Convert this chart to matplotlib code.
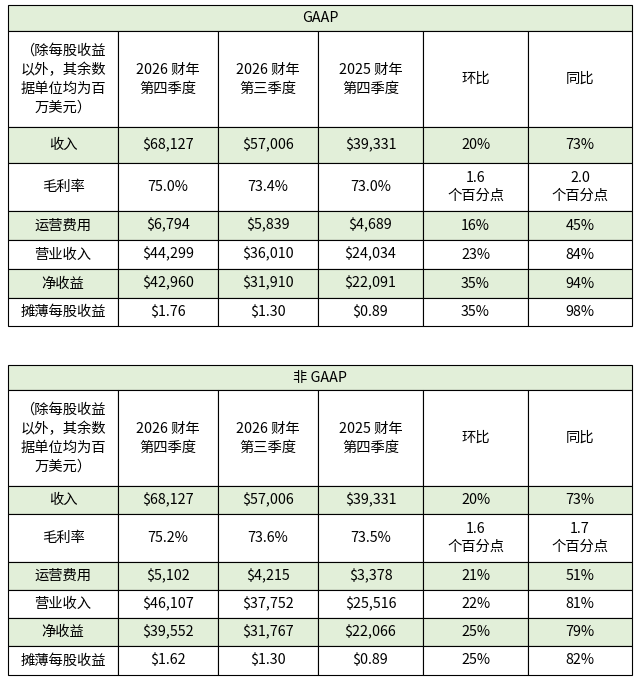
import matplotlib
matplotlib.use("Agg")
import matplotlib.pyplot as plt
from matplotlib.patches import Rectangle

plt.rcParams['font.family'] = ['Noto Sans CJK SC', 'DejaVu Sans']

col_headers = ["（除每股收益\n以外，其余数\n据单位均为百\n万美元）", "2026 财年\n第四季度", "2026 财年\n第三季度", "2025 财年\n第四季度", "环比", "同比"]
row_labels = ["收入", "毛利率", "运营费用", "营业收入", "净收益", "摊薄每股收益"]
gaap_values = [
    ["$68,127", "$57,006", "$39,331", "20%", "73%"],
    ["75.0%", "73.4%", "73.0%", "1.6\n个百分点", "2.0\n个百分点"],
    ["$6,794", "$5,839", "$4,689", "16%", "45%"],
    ["$44,299", "$36,010", "$24,034", "23%", "84%"],
    ["$42,960", "$31,910", "$22,091", "35%", "94%"],
    ["$1.76", "$1.30", "$0.89", "35%", "98%"],
]
nongaap_values = [
    ["$68,127", "$57,006", "$39,331", "20%", "73%"],
    ["75.2%", "73.6%", "73.5%", "1.6\n个百分点", "1.7\n个百分点"],
    ["$5,102", "$4,215", "$3,378", "21%", "51%"],
    ["$46,107", "$37,752", "$25,516", "22%", "81%"],
    ["$39,552", "$31,767", "$22,066", "25%", "79%"],
    ["$1.62", "$1.30", "$0.89", "25%", "82%"],
]
green_rows = [True, False, True, False, True, False]

W, H = 639, 685
fig = plt.figure(figsize=(W/100, H/100), dpi=100)
ax = fig.add_axes([0, 0, 1, 1])
ax.set_xlim(0, W); ax.set_ylim(H, 0); ax.axis('off')

xs = [8, 118, 218, 318, 423, 528, 632]
GREEN = "#e2efd9"

def table(title, vals, ys):
    fs = 10.3
    ax.add_patch(Rectangle((xs[0], ys[0]), xs[-1]-xs[0], ys[1]-ys[0], fc=GREEN, ec='black', lw=0.8))
    ax.text((xs[0]+xs[-1])/2, (ys[0]+ys[1])/2, title, ha='center', va='center', fontsize=fs)
    for j, h in enumerate(col_headers):
        ax.add_patch(Rectangle((xs[j], ys[1]), xs[j+1]-xs[j], ys[2]-ys[1], fc='white', ec='black', lw=0.8))
        ax.text((xs[j]+xs[j+1])/2, (ys[1]+ys[2])/2, h, ha='center', va='center', fontsize=fs, linespacing=1.45)
    for i, lab in enumerate(row_labels):
        y0, y1 = ys[i+2], ys[i+3]
        fc = GREEN if green_rows[i] else 'white'
        cells = [lab] + vals[i]
        for j, t in enumerate(cells):
            ax.add_patch(Rectangle((xs[j], y0), xs[j+1]-xs[j], y1-y0, fc=fc, ec='black', lw=0.8))
            ax.text((xs[j]+xs[j+1])/2, (y0+y1)/2, t, ha='center', va='center', fontsize=fs, linespacing=1.3)

table("GAAP", gaap_values, [5, 31, 127, 163, 211, 240, 269, 298, 326])
table("非 GAAP", nongaap_values, [365, 390, 486, 514, 562, 590, 618, 646, 675])

fig.savefig("out.png", dpi=100, facecolor='white')
